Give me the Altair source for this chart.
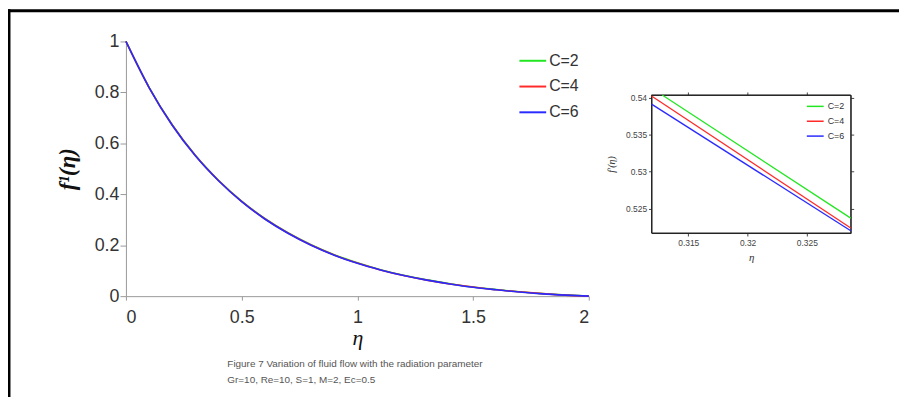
import altair as alt
import pandas as pd

# ---- data ----
series = ["C=2", "C=4", "C=6"]
colors = ["#22e622", "#ff2a2a", "#2a2aff"]

eta = [0.0, 0.1, 0.2, 0.3, 0.4, 0.5, 0.6, 0.7, 0.8, 0.9, 1.0,
       1.1, 1.2, 1.3, 1.4, 1.5, 1.6, 1.7, 1.8, 1.9, 2.0]
f_c2 = [1.000, 0.820, 0.673, 0.553, 0.455, 0.373, 0.305, 0.249, 0.202, 0.163, 0.131,
        0.104, 0.082, 0.064, 0.049, 0.036, 0.026, 0.017, 0.010, 0.005, 0.000]
f_c4 = [1.000, 0.819, 0.672, 0.552, 0.454, 0.372, 0.304, 0.248, 0.201, 0.162, 0.130,
        0.103, 0.081, 0.063, 0.048, 0.036, 0.025, 0.017, 0.010, 0.004, 0.000]
f_c6 = [1.000, 0.819, 0.671, 0.551, 0.453, 0.371, 0.303, 0.247, 0.200, 0.161, 0.129,
        0.103, 0.081, 0.063, 0.048, 0.035, 0.025, 0.016, 0.009, 0.004, 0.000]

# zoomed inset
inset_eta_c2 = [0.3128, 0.3287]
inset_f_c2 = [0.54036, 0.52371]
inset_eta_c4 = [0.3119, 0.3287]
inset_f_c4 = [0.54023, 0.52237]
inset_eta_c6 = [0.3119, 0.3287]
inset_f_c6 = [0.53912, 0.52201]

main_x_ticks = [0, 0.5, 1, 1.5, 2]
main_y_ticks = [0, 0.2, 0.4, 0.6, 0.8, 1]
inset_x_ticks = [0.315, 0.32, 0.325]
inset_y_ticks = [0.525, 0.53, 0.535, 0.54]

caption1 = "Figure 7 Variation of fluid flow with the radiation parameter"
caption2 = "Gr=10, Re=10, S=1, M=2, Ec=0.5"

main_df = pd.DataFrame({
    "eta": eta * 3,
    "f": f_c2 + f_c4 + f_c6,
    "C": [series[0]] * len(eta) + [series[1]] * len(eta) + [series[2]] * len(eta),
})
inset_df = pd.DataFrame({
    "eta": inset_eta_c2 + inset_eta_c4 + inset_eta_c6,
    "f": inset_f_c2 + inset_f_c4 + inset_f_c6,
    "C": [series[0]] * 2 + [series[1]] * 2 + [series[2]] * 2,
})

W, H = 467, 257
SANS = "Liberation Sans"
SERIF = "Liberation Serif"

main_lines = alt.Chart(main_df).mark_line(strokeWidth=1.6, interpolate="monotone").encode(
    x=alt.X("eta:Q", scale=alt.Scale(domain=[0, 2], nice=False),
            axis=alt.Axis(values=main_x_ticks, format="~f", grid=False, title="η",
                          titleFont=SERIF, titleFontStyle="italic", titleFontWeight="normal",
                          titleFontSize=22, titleColor="#111", titlePadding=1,
                          labelFont=SANS, labelFontSize=18, labelColor="#333",
                          domainColor="#999", tickColor="#999", tickSize=4, labelPadding=9)),
    y=alt.Y("f:Q", scale=alt.Scale(domain=[0, 1], nice=False),
            axis=alt.Axis(values=main_y_ticks, format="~f", grid=False, title="f¹(η)",
                          titleFont=SERIF, titleFontStyle="italic", titleFontWeight="bold",
                          titleFontSize=23, titleColor="#111", titlePadding=15,
                          labelFont=SANS, labelFontSize=18, labelColor="#333",
                          domainColor="#999", tickColor="#999", tickSize=6, labelPadding=1)),
    color=alt.Color("C:N", scale=alt.Scale(domain=series, range=colors),
                    legend=alt.Legend(orient="none", legendX=396, legendY=5, title=None,
                                      symbolType="stroke", symbolSize=729, symbolStrokeWidth=2,
                                      labelFont=SANS, labelFontSize=16, labelColor="#333",
                                      labelOffset=2, rowPadding=3)),
)

ix_scale = alt.Scale(domain=[0.3119, 0.3287], range=[530.3, 731.3], nice=False, zero=False)
iy_scale = alt.Scale(domain=[0.5217, 0.54036], range=[193.3, 54], nice=False, zero=False)

inset_lines = alt.Chart(inset_df).mark_line(strokeWidth=1.3).encode(
    x=alt.X("eta:Q", scale=ix_scale,
            axis=alt.Axis(orient="bottom", offset=-(H - 193.3), values=inset_x_ticks, format="~f",
                          grid=False, title="η", titleFont=SERIF, titleFontStyle="italic",
                          titleFontWeight="normal", titleFontSize=11, titleColor="#333", titlePadding=4,
                          labelFont=SANS, labelFontSize=8.5, labelColor="#444",
                          domainColor="#222", tickColor="#444", tickSize=3, labelPadding=3)),
    y=alt.Y("f:Q", scale=iy_scale,
            axis=alt.Axis(orient="left", offset=-530.3, values=inset_y_ticks, format="~f",
                          grid=False, title="f'(η)", titleFont=SERIF, titleFontStyle="italic",
                          titleFontWeight="normal", titleFontSize=10, titleColor="#333", titlePadding=9,
                          labelFont=SANS, labelFontSize=8.5, labelColor="#444",
                          domainColor="#222", tickColor="#444", tickSize=3, labelPadding=2)),
    color=alt.Color("C:N", scale=alt.Scale(domain=series, range=colors),
                    legend=alt.Legend(orient="none", legendX=686, legendY=56, title=None,
                                      symbolType="stroke", symbolSize=289, symbolStrokeWidth=1.5,
                                      labelFont=SANS, labelFontSize=9, labelColor="#333",
                                      labelOffset=3, rowPadding=-2)),
)

inset_tr = alt.Chart(inset_df).mark_line(opacity=0).encode(
    x=alt.X("eta:Q", scale=ix_scale,
            axis=alt.Axis(orient="top", offset=-54, values=inset_x_ticks, labels=False, title=None,
                          grid=False, domainColor="#222", tickColor="#444", tickSize=3)),
    y=alt.Y("f:Q", scale=iy_scale,
            axis=alt.Axis(orient="right", offset=731.3 - W, values=inset_y_ticks, labels=False,
                          title=None, grid=False, domainColor="#222", tickColor="#444", tickSize=3)),
    detail="C:N",
)

inset = alt.layer(inset_lines, inset_tr).resolve_axis(x="independent", y="independent")

one = pd.DataFrame({"k": [0]})
frame_left = alt.Chart(one).mark_rule(color="black", strokeWidth=3).encode(
    x=alt.value(-118), y=alt.value(-32.5), y2=alt.value(H + 110))
frame_top = alt.Chart(one).mark_rule(color="black", strokeWidth=3).encode(
    x=alt.value(-119.5), x2=alt.value(W + 330), y=alt.value(-31))
inset_box = alt.Chart(one).mark_rect(fillOpacity=0, stroke="#222", strokeWidth=1).encode(
    x=alt.value(530.3), x2=alt.value(731.3), y=alt.value(54), y2=alt.value(193.3))

cap1 = alt.Chart(pd.DataFrame({"t": [caption1]})).mark_text(
    align="left", baseline="middle", font=SANS, fontSize=10, color="#555").encode(
    text="t:N", x=alt.value(102.3), y=alt.value(325.5))
cap2 = alt.Chart(pd.DataFrame({"t": [caption2]})).mark_text(
    align="left", baseline="middle", font=SANS, fontSize=10, color="#555").encode(
    text="t:N", x=alt.value(102.3), y=alt.value(341.5))

chart = alt.layer(
    frame_left, frame_top, main_lines, inset_box, inset, cap1, cap2
).resolve_scale(
    x="independent", y="independent"
).resolve_legend(
    color="independent"
).properties(
    width=W, height=H,
    padding={"left": 119, "top": 32, "right": 313, "bottom": 100},
    autosize=alt.AutoSizeParams(type="none"),
    background="white",
).configure_view(stroke="transparent")

chart.save("out.html", embed_options={"renderer": "svg", "actions": False})
